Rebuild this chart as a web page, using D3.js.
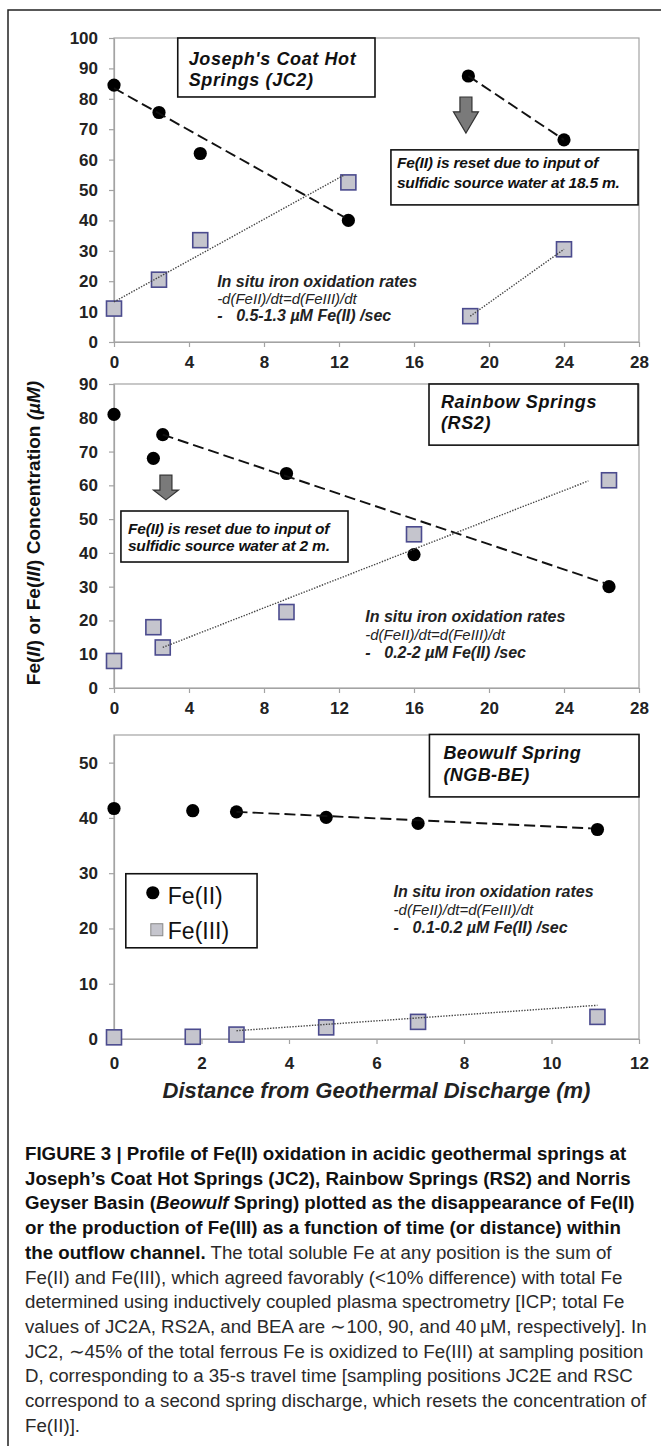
<!DOCTYPE html>
<html>
<head>
<meta charset="utf-8">
<script src="https://cdn.jsdelivr.net/npm/d3@7/dist/d3.min.js"></script>
<style>
	body { margin: 0; background: #fff; }
	svg text { font-family: "Liberation Sans", Arial, sans-serif; }
</style>
</head>
<body>
<div id="fig"></div>
<script>
// Joseph's Coat Hot Springs (JC2)
const jcDistII = [0, 2.4, 4.6, 12.5, 18.9, 24];
const jcFeII = [84.5, 75.5, 62, 40, 87.5, 66.5];
const jcDistIII = [0, 2.4, 4.6, 12.5, 19, 24];
const jcFeIII = [11, 20.5, 33.5, 52.5, 8.5, 30.5];
const jcTrendII = [[[0, 83.5], [12.3, 41]], [[18.9, 87.5], [24, 66.5]]];
const jcTrendIII = [[[0, 13.2], [12.3, 55]], [[19, 8.5], [24, 30.5]]];

// Rainbow Springs (RS2)
const rsDist = [0, 2.1, 2.6, 9.2, 16, 26.4];
const rsFeII = [81, 68, 75, 63.5, 39.5, 30];
const rsFeIII = [8, 18, 12, 22.5, 45.5, 61.5];
const rsTrendII = [[[2.6, 75], [26.2, 31]]];
const rsTrendIII = [[[2.6, 12], [25.3, 61.3]]];

// Beowulf Spring (NGB-BE)
const beDist = [0, 1.8, 2.8, 4.85, 6.95, 11.05];
const beFeII = [41.7, 41.3, 41.1, 40.1, 39, 37.9];
const beFeIII = [0.3, 0.4, 0.8, 2.1, 3.1, 4.0];
const beTrendII = [[[2.8, 41.1], [10.9, 38.1]]];
const beTrendIII = [[[2.8, 1.5], [11.05, 6.1]]];

// axis ticks
const ticksX28 = [0, 4, 8, 12, 16, 20, 24, 28];
const ticksX12 = [0, 2, 4, 6, 8, 10, 12];
const ticksY100 = [0, 10, 20, 30, 40, 50, 60, 70, 80, 90, 100];
const ticksY90 = [0, 10, 20, 30, 40, 50, 60, 70, 80, 90];
const ticksY50 = [0, 10, 20, 30, 40, 50];

// annotation texts
const jcTitle = ["Joseph's Coat Hot", "Springs  (JC2)"];
const rsTitle = ['Rainbow Springs', '(RS2)'];
const beTitle = ['Beowulf Spring', '(NGB-BE)'];
const jcReset = ['Fe(II) is reset due to input of', 'sulfidic source water at 18.5 m.'];
const rsReset = ['Fe(II) is reset due to input of', 'sulfidic source water at 2 m.'];
const rateHead = 'In situ iron oxidation rates';
const rateEq = '-d(FeII)/dt=d(FeIII)/dt';
const jcRate = '0.5-1.3 µM Fe(II) /sec';
const rsRate = '0.2-2 µM Fe(II) /sec';
const beRate = '0.1-0.2  µM Fe(II) /sec';

const captionLines = [
	[['b', 'FIGURE 3 | Profile of Fe(II) oxidation in acidic geothermal springs at']],
	[['b', 'Joseph\u2019s Coat Hot Springs (JC2), Rainbow Springs (RS2) and Norris']],
	[['b', 'Geyser Basin ('], ['bi', 'Beowulf'], ['b', ' Spring) plotted as the disappearance of Fe(II)']],
	[['b', 'or the production of Fe(III) as a function of time (or distance) within']],
	[['b', 'the outflow channel.'], ['r', ' The total soluble Fe at any position is the sum of']],
	[['r', 'Fe(II) and Fe(III), which agreed favorably (<10% difference) with total Fe']],
	[['r', 'determined using inductively coupled plasma spectrometry [ICP; total Fe']],
	[['r', 'values of JC2A, RS2A, and BEA are \u223c100, 90, and 40\u2009\u00b5M, respectively]. In']],
	[['r', 'JC2, \u223c45% of the total ferrous Fe is oxidized to Fe(III) at sampling position']],
	[['r', 'D, corresponding to a 35-s travel time [sampling positions JC2E and RSC']],
	[['r', 'correspond to a second spring discharge, which resets the concentration of']],
	[['r', 'Fe(II)].']]
];

const W = 661, H = 1446;
const left = 114, right = 639;
const AXIS_GREY = '#a3a3a3';
const SQ_FILL = '#c5c5cd', SQ_STROKE = '#4b4b8e';

const svg = d3.select('#fig').append('svg').attr('width', W).attr('height', H);
svg.append('rect').attr('width', W).attr('height', H).attr('fill', '#fff');

// outer frame (only top and left edges fall inside the view)
svg.append('path').attr('d', `M${W},10H8V${H}`).attr('fill', 'none').attr('stroke', '#222').attr('stroke-width', 1.5);

function drawPanel(p) {
	const x = d3.scaleLinear().domain(p.xDomain).range([left, right]);
	const y = d3.scaleLinear().domain(p.yDomain).range([p.bottom, p.top]);
	const g = svg.append('g');

	// plot area
	g.append('rect')
		.attr('x', left).attr('y', p.top)
		.attr('width', right - left).attr('height', p.bottom - p.top)
		.attr('fill', '#fff').attr('stroke', AXIS_GREY).attr('stroke-width', 1.2);

	// Axes
	const ya = g.append('g')
		.attr('transform', `translate(${left},0)`)
		.call(d3.axisLeft(y).tickValues(p.yTicks).tickSize(5).tickSizeOuter(0).tickPadding(11));
	const xa = g.append('g')
		.attr('transform', `translate(0,${p.bottom})`)
		.call(d3.axisBottom(x).tickValues(p.xTicks).tickSize(5).tickSizeOuter(0).tickPadding(p.xPad));
	[ya, xa].forEach(a => {
		a.select('.domain').attr('stroke', AXIS_GREY).attr('stroke-width', 1.2);
		a.selectAll('.tick line').attr('stroke', AXIS_GREY).attr('stroke-width', 1.2);
		a.selectAll('.tick text')
			.style('font-family', '"Liberation Sans", Arial, sans-serif')
			.style('font-size', '17px')
			.style('font-weight', 'bold')
			.attr('fill', '#222');
	});

	// Markers
	g.selectAll('circle.fe2')
		.data(p.feII.map((v, i) => [p.distII[i], v]))
		.enter().append('circle')
		.attr('cx', d => x(d[0])).attr('cy', d => y(d[1]))
		.attr('r', 6.6).attr('fill', '#000');
	g.selectAll('rect.fe3')
		.data(p.feIII.map((v, i) => [p.distIII[i], v]))
		.enter().append('rect')
		.attr('x', d => x(d[0]) - 7.5).attr('y', d => y(d[1]) - 7.5)
		.attr('width', 15).attr('height', 15)
		.attr('fill', SQ_FILL).attr('stroke', SQ_STROKE).attr('stroke-width', 1.6);

	// Trend lines
	const line = d3.line().x(d => x(d[0])).y(d => y(d[1]));
	p.trendII.forEach(seg => g.append('path').attr('d', line(seg))
		.attr('fill', 'none').attr('stroke', '#111').attr('stroke-width', 1.9).attr('stroke-dasharray', '11,5'));
	p.trendIII.forEach(seg => g.append('path').attr('d', line(seg))
		.attr('fill', 'none').attr('stroke', '#444').attr('stroke-width', 1.4).attr('stroke-dasharray', '1.4,1.4'));

	// Annotation boxes
	p.boxes.forEach(b => {
		const bx = x(b.at[0]), by = y(b.at[2]);
		g.append('rect')
			.attr('x', bx).attr('y', by)
			.attr('width', x(b.at[1]) - bx).attr('height', y(b.at[3]) - by)
			.attr('fill', '#fff').attr('stroke', '#111').attr('stroke-width', 1.6);
		b.lines.forEach((t, i) => g.append('text')
			.attr('x', bx + b.pad[0]).attr('y', by + b.pad[1] + i * b.lead)
			.style('font-size', b.size + 'px').style('font-weight', 'bold').style('font-style', 'italic')
			.style('letter-spacing', (b.spacing || 0) + 'px')
			.attr('fill', '#111').text(t));
	});

	// Rate text
	const rx = x(p.rate.at[0]), ry = y(p.rate.at[1]);
	const rt = g.append('g').attr('fill', '#222').style('font-style', 'italic');
	rt.append('text').attr('x', rx).attr('y', ry)
		.style('font-size', '16px').style('font-weight', 'bold').text(rateHead);
	rt.append('text').attr('x', rx).attr('y', ry + p.rate.lead)
		.style('font-size', '15px').text(rateEq);
	const r3 = rt.append('text').attr('x', rx).attr('y', ry + 2 * p.rate.lead)
		.style('font-size', '16px').style('font-weight', 'bold');
	r3.append('tspan').text('-');
	r3.append('tspan').attr('x', rx + 19).text(p.rate.text);

	// Reset arrow
	if (p.arrow) {
		const ax = x(p.arrow[0]), y0 = y(p.arrow[1]), y1 = y(p.arrow[2]), yh = y(p.arrow[3]);
		g.append('path')
			.attr('d', `M${ax - 6},${y0}H${ax + 6}V${yh}H${ax + 12.5}L${ax},${y1}L${ax - 12.5},${yh}H${ax - 6}Z`)
			.attr('fill', '#7a7a7a').attr('stroke', '#333').attr('stroke-width', 1.2);
	}
	return { x, y, g };
}

drawPanel({
	xDomain: [0, 28], yDomain: [0, 100], top: 38, bottom: 342, xPad: 9,
	xTicks: ticksX28, yTicks: ticksY100,
	distII: jcDistII, feII: jcFeII, distIII: jcDistIII, feIII: jcFeIII,
	trendII: jcTrendII, trendIII: jcTrendIII,
	boxes: [
		{ at: [3.4, 13.92, 100, 80.6], lines: jcTitle, pad: [11, 27], lead: 21, size: 18, spacing: 0.6 },
		{ at: [14.77, 27.95, 63.2, 45.1], lines: jcReset, pad: [6, 18], lead: 20, size: 15.5, spacing: -0.2 }
	],
	rate: { at: [5.5, 18.1], lead: 17, text: jcRate },
	arrow: [18.77, 80.6, 68.75, 75.7]
});

drawPanel({
	xDomain: [0, 28], yDomain: [0, 90], top: 384, bottom: 688, xPad: 9,
	xTicks: ticksX28, yTicks: ticksY90,
	distII: rsDist, feII: rsFeII, distIII: rsDist, feIII: rsFeIII,
	trendII: rsTrendII, trendIII: rsTrendIII,
	boxes: [
		{ at: [16.8, 27.95, 90, 71.9], lines: rsTitle, pad: [12, 24], lead: 21, size: 18, spacing: 0.6 },
		{ at: [0.37, 12.48, 52.4, 37.3], lines: rsReset, pad: [7, 23], lead: 17, size: 15.5, spacing: -0.2 }
	],
	rate: { at: [13.4, 19.5], lead: 18, text: rsRate },
	arrow: [2.77, 63, 55.7, 58.6]
});

const be = drawPanel({
	xDomain: [0, 12], yDomain: [0, 55], top: 735, bottom: 1039, xPad: 13,
	xTicks: ticksX12, yTicks: ticksY50,
	distII: beDist, feII: beFeII, distIII: beDist, feIII: beFeIII,
	trendII: beTrendII, trendIII: beTrendIII,
	boxes: [
		{ at: [7.21, 12, 55.1, 43.8], lines: beTitle, pad: [14, 25], lead: 22, size: 18, spacing: 0.4 }
	],
	rate: { at: [6.39, 25.7], lead: 18, text: beRate }
});

// Legend
const lx = be.x(0.27), ly = be.y(29.9);
const lg = be.g.append('g').attr('transform', `translate(${lx},${ly})`);
lg.append('rect').attr('width', be.x(3.27) - lx).attr('height', be.y(16.5) - ly)
	.attr('fill', '#fff').attr('stroke', '#111').attr('stroke-width', 1.6);
lg.append('circle').attr('cx', 27).attr('cy', 19).attr('r', 6.6).attr('fill', '#000');
lg.append('rect').attr('x', 25).attr('y', 50).attr('width', 12).attr('height', 12)
	.attr('fill', SQ_FILL).attr('stroke', '#888').attr('stroke-width', 1);
['Fe(II)', 'Fe(III)'].forEach((t, i) => lg.append('text')
	.attr('x', 42).attr('y', 30 + i * 35)
	.style('font-size', '23px').attr('fill', '#111').text(t));

// Axis titles
const yt = svg.append('text')
	.attr('transform', 'translate(40,533) rotate(-90)')
	.attr('text-anchor', 'middle')
	.style('font-size', '19px').style('font-weight', 'bold').attr('fill', '#111');
[['Fe(', 0], ['II', 1], [') or Fe(', 0], ['III', 1], [') Concentration ', 0], ['(µM)', 1]]
	.forEach(([t, it]) => yt.append('tspan').style('font-style', it ? 'italic' : 'normal').text(t));

svg.append('text')
	.attr('x', (left + right) / 2).attr('y', 1098)
	.attr('text-anchor', 'middle')
	.style('font-size', '22px').style('font-weight', 'bold').style('font-style', 'italic')
	.attr('fill', '#222')
	.text('Distance from Geothermal Discharge (m)');

// Caption
const cap = svg.append('g')
	.style('font-family', '"Liberation Sans Narrow", "Arial Narrow", "Liberation Sans", Arial, sans-serif')
	.style('font-size', '19px');
captionLines.forEach((parts, i) => {
	const t = cap.append('text').attr('x', 25).attr('y', 1160 + i * 24.7).attr('fill', '#1a1a1a');
	parts.forEach(([s, str]) => t.append('tspan')
		.style('font-weight', s === 'r' ? 'normal' : 'bold')
		.style('font-style', s === 'bi' ? 'italic' : 'normal')
		.attr('fill', s === 'r' ? '#2a2a2a' : '#111')
		.text(str));
});
// fit caption width to the reference (line "correspond ... of" spans ~622px)
const refLine = cap.selectAll('text').nodes()[10];
const natural = refLine.getComputedTextLength();
cap.style('font-size', (19 * 622 / natural).toFixed(2) + 'px');
</script>
</body>
</html>
